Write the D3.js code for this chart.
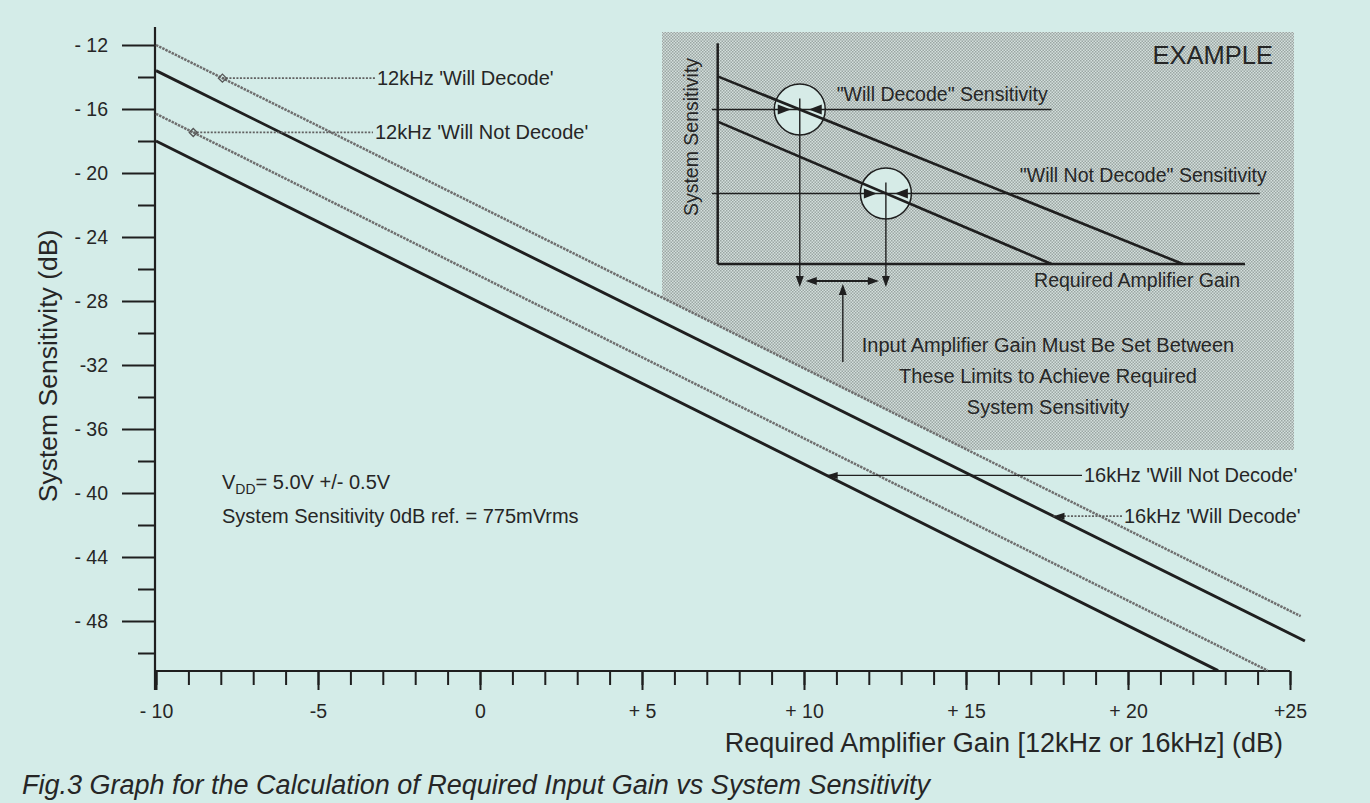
<!DOCTYPE html>
<html>
<head>
<meta charset="utf-8">
<script src="https://cdn.jsdelivr.net/npm/d3@7"></script>
<style>
  body { margin: 0; background: #d4ece8; }
  svg { display: block; font-family: "Liberation Sans", Arial, Helvetica, sans-serif; }
</style>
</head>
<body>
<svg id="chart"></svg>
<script>
// axis ticks
const xTicks = [-10, -5, 0, 5, 10, 15, 20, 25];
const xTickLabels = ['- 10', '-5', '0', '+ 5', '+ 10', '+ 15', '+ 20', '+25'];
const yTicks = [-12, -16, -20, -24, -28, -32, -36, -40, -44, -48];
const yTickLabels = ['- 12', '- 16', '- 20', '- 24', '- 28', '-32', '- 36', '- 40', '- 44', '- 48'];

// the four lines, start and end as [gain dB, sensitivity dB]
const seriesNames = ["12kHz 'Will Decode'", "16kHz 'Will Decode'", "12kHz 'Will Not Decode'", "16kHz 'Will Not Decode'"];
const seriesKind = ['12k', '16k', '12k', '16k'];
const seriesPoints = [
  [[-10, -12.0], [25.33, -47.7]],
  [[-10, -13.6], [25.46, -49.25]],
  [[-10, -16.3], [24.31, -51.1]],
  [[-10, -18.0], [22.78, -51.1]]
];

// labels: which line they point at and at what gain
const labelSeries = [0, 2, 3, 1];
const labelGain = [-7.95, -8.85, 10.7, 17.7];

// EXAMPLE inset, schematic units 0-100
const exSens = [70, 32];                 // "Will Decode", "Will Not Decode" levels
const exLines = [[85, 88.2], [64.5, 63.3]]; // [value at gain 0, gain where it meets axis]

const W = 1370, H = 803;
const ink = '#1f1f1f';
const txt = '#262626';

const svg = d3.select('#chart').attr('width', W).attr('height', H);

const x = d3.scaleLinear().domain([-10, 25]).range([156, 1290]);
const y = d3.scaleLinear().domain([-12, -48]).range([45, 621]);
const axisY = 671, axisTop = 27;

// value of a line at some gain
function lineAt(s, g) {
  const p = seriesPoints[s];
  const t = (g - p[0][0]) / (p[1][0] - p[0][0]);
  return p[0][1] + t * (p[1][1] - p[0][1]);
}
function gainAt(s, v) {
  const p = seriesPoints[s];
  const t = (v - p[0][1]) / (p[1][1] - p[0][1]);
  return p[0][0] + t * (p[1][0] - p[0][0]);
}

// filled triangle with tip at (tx,ty), dir = 'l','r','u','d'
function arrowHead(g, tx, ty, dir, len, half) {
  len = len || 11; half = half || 4;
  let pts;
  if (dir == 'r') pts = [[tx, ty], [tx - len, ty - half], [tx - len, ty + half]];
  if (dir == 'l') pts = [[tx, ty], [tx + len, ty - half], [tx + len, ty + half]];
  if (dir == 'd') pts = [[tx, ty], [tx - half, ty - len], [tx + half, ty - len]];
  if (dir == 'u') pts = [[tx, ty], [tx - half, ty + len], [tx + half, ty + len]];
  g.append('path').attr('d', 'M' + pts.join('L') + 'Z').attr('fill', ink);
}

// ---------- dotted EXAMPLE area (cut by the top line) ----------
const defs = svg.append('defs');
const pat = defs.append('pattern').attr('id', 'dots')
  .attr('width', 3).attr('height', 3).attr('patternUnits', 'userSpaceOnUse');
pat.append('rect').attr('width', 3).attr('height', 3).attr('fill', '#d3dfdc');
pat.append('rect').attr('width', 1.5).attr('height', 1.5).attr('fill', '#9ba6a3');
pat.append('rect').attr('x', 1.5).attr('y', 1.5).attr('width', 1.5).attr('height', 1.5).attr('fill', '#9ba6a3');

const box = {l: 662, t: 32, r: 1294, b: 450};
const cutLeft = y(lineAt(0, x.invert(box.l)));
const cutBottom = x(gainAt(0, y.invert(box.b)));
svg.append('path')
  .attr('d', `M${box.l},${box.t}L${box.r},${box.t}L${box.r},${box.b}L${cutBottom},${box.b}L${box.l},${cutLeft}Z`)
  .attr('fill', 'url(#dots)');

const inset = svg.append('g');
const ix = d3.scaleLinear().domain([0, 100]).range([717.7, 1245]);
const iy = d3.scaleLinear().domain([0, 100]).range([264, 43.3]);

// intersections of sensitivity levels with the two lines
const cross = exSens.map((s, i) => exLines[i][1] * (1 - s / exLines[i][0]));

cross.forEach((c, i) => {
  inset.append('circle')
    .attr('cx', ix(c)).attr('cy', iy(exSens[i])).attr('r', 25.5)
    .attr('fill', '#d6ebe7').attr('stroke', ink).attr('stroke-width', 1.5);
});

// inset axes
inset.append('line').attr('x1', ix(0)).attr('x2', ix(0)).attr('y1', iy(100)).attr('y2', iy(0))
  .attr('stroke', ink).attr('stroke-width', 2.5);
inset.append('line').attr('x1', ix(0)).attr('x2', ix(100)).attr('y1', iy(0)).attr('y2', iy(0))
  .attr('stroke', ink).attr('stroke-width', 2.5);

exLines.forEach(l => {
  inset.append('line').attr('x1', ix(0)).attr('y1', iy(l[0])).attr('x2', ix(l[1])).attr('y2', iy(0))
    .attr('stroke', ink).attr('stroke-width', 2.6);
});

const levelEnd = [63.3, 102.8];
exSens.forEach((s, i) => {
  inset.append('line').attr('x1', ix(-1.1)).attr('x2', ix(levelEnd[i])).attr('y1', iy(s)).attr('y2', iy(s))
    .attr('stroke', ink).attr('stroke-width', 1.5);
});

const dropTip = iy(0) + 23;
cross.forEach((c, i) => {
  const cx = ix(c), cy = iy(exSens[i]);
  arrowHead(inset, cx - 9, cy, 'r', 13, 5);
  arrowHead(inset, cx + 9, cy, 'l', 13, 5);
  inset.append('line').attr('x1', cx).attr('x2', cx).attr('y1', cy - 11).attr('y2', dropTip - 6)
    .attr('stroke', ink).attr('stroke-width', 1.4);
  arrowHead(inset, cx, dropTip, 'd', 11, 4);
});

// range arrow between the drops and pointer up to it
const ax1 = ix(cross[0]) + 6, ax2 = ix(cross[1]) - 7, ay = dropTip - 6;
inset.append('line').attr('x1', ax1 + 8).attr('x2', ax2 - 8).attr('y1', ay).attr('y2', ay)
  .attr('stroke', ink).attr('stroke-width', 2);
arrowHead(inset, ax1, ay, 'l', 11, 4);
arrowHead(inset, ax2, ay, 'r', 11, 4);
const mid = (ix(cross[0]) + ix(cross[1])) / 2;
inset.append('line').attr('x1', mid).attr('x2', mid).attr('y1', ay + 12).attr('y2', 362)
  .attr('stroke', ink).attr('stroke-width', 1.4);
arrowHead(inset, mid, ay + 3, 'u', 11, 4);

// inset texts
inset.append('text').attr('transform', 'translate(698,137) rotate(-90)')
  .attr('text-anchor', 'middle').attr('font-size', 19.5).attr('fill', txt).text('System Sensitivity');
inset.append('text').attr('x', 836.7).attr('y', 101).attr('font-size', 19.5).attr('fill', txt)
  .text('"Will Decode" Sensitivity');
inset.append('text').attr('x', 1266.7).attr('y', 182).attr('text-anchor', 'end').attr('font-size', 19.5).attr('fill', txt)
  .text('"Will Not Decode" Sensitivity');
inset.append('text').attr('x', 1240).attr('y', 287).attr('text-anchor', 'end').attr('font-size', 19.5).attr('fill', txt)
  .text('Required Amplifier Gain');
inset.append('text').attr('x', 1273).attr('y', 64).attr('text-anchor', 'end').attr('font-size', 25.5).attr('fill', txt)
  .text('EXAMPLE');
const noteLines = ['Input Amplifier Gain Must Be Set Between', 'These Limits to Achieve Required', 'System Sensitivity'];
noteLines.forEach((t, i) => {
  inset.append('text').attr('x', 1048).attr('y', 352 + i * 31).attr('text-anchor', 'middle')
    .attr('font-size', 20).attr('fill', txt).text(t);
});

// ---------- axes ----------
const xMinor = svg.append('g').attr('transform', `translate(0,${axisY})`)
  .call(d3.axisBottom(x).tickValues(d3.range(-10, 26, 1)).tickSize(14).tickFormat(''));
const xMajor = svg.append('g').attr('transform', `translate(0,${axisY})`)
  .call(d3.axisBottom(x).tickValues(xTicks).tickSize(19).tickPadding(14)
    .tickFormat((d, i) => xTickLabels[i]));
const yMinor = svg.append('g').attr('transform', 'translate(155,0)')
  .call(d3.axisLeft(y).tickValues(d3.range(-14, -51, -4)).tickSize(17).tickFormat(''));
const yMajor = svg.append('g').attr('transform', 'translate(155,0)')
  .call(d3.axisLeft(y).tickValues(yTicks).tickSize(33).tickPadding(14)
    .tickFormat((d, i) => yTickLabels[i]));

[xMinor, xMajor, yMinor, yMajor].forEach(g => {
  g.select('.domain').remove();
  g.selectAll('line').attr('stroke', ink).attr('stroke-width', 2);
  g.selectAll('text').attr('font-size', 19.5).attr('fill', txt)
    .attr('font-family', '"Liberation Sans", Arial, sans-serif');
});

svg.append('line').attr('x1', 155).attr('x2', 155).attr('y1', axisTop).attr('y2', axisY + 19)
  .attr('stroke', ink).attr('stroke-width', 2.2);
svg.append('line').attr('x1', 155).attr('x2', x(25)).attr('y1', axisY).attr('y2', axisY)
  .attr('stroke', ink).attr('stroke-width', 2.2);

svg.append('text').attr('transform', 'translate(57,366) rotate(-90)')
  .attr('text-anchor', 'middle').attr('font-size', 26.5).attr('fill', txt)
  .text('System Sensitivity (dB)');
svg.append('text').attr('x', 1283).attr('y', 752).attr('text-anchor', 'end')
  .attr('font-size', 27).attr('fill', txt)
  .text('Required Amplifier Gain [12kHz or 16kHz] (dB)');

// ---------- lines ----------
const line = d3.line().x(d => x(d[0])).y(d => y(d[1]));
svg.append('g').selectAll('path')
  .data(seriesPoints)
  .enter()
  .append('path')
  .attr('d', line)
  .attr('fill', 'none')
  .attr('stroke', (d, i) => seriesKind[i] == '12k' ? '#6e6e6e' : ink)
  .attr('stroke-width', (d, i) => seriesKind[i] == '12k' ? 2.5 : 2.9)
  .attr('stroke-dasharray', (d, i) => seriesKind[i] == '12k' ? '2.5 1' : null);

// ---------- line labels ----------
const leaderEnd = [375, 373, 1082, 1122];
labelSeries.forEach((s, i) => {
  const px = x(labelGain[i]);
  const py = y(lineAt(s, labelGain[i]));
  const ex = leaderEnd[i];
  const dotted = i != 2;
  svg.append('line').attr('x1', px).attr('x2', ex).attr('y1', py).attr('y2', py)
    .attr('stroke', dotted ? '#606060' : ink)
    .attr('stroke-width', dotted ? 1.7 : 1.3)
    .attr('stroke-dasharray', dotted ? '2 1.5' : null);
  if (seriesKind[s] == '12k') {
    svg.append('path')
      .attr('d', `M${px - 4},${py}L${px},${py - 4}L${px + 4},${py}L${px},${py + 4}Z`)
      .attr('fill', 'none').attr('stroke', '#555').attr('stroke-width', 1.3);
  } else {
    arrowHead(svg, px, py, 'l', 11, 3.5);
  }
  svg.append('text').attr('x', ex + 2).attr('y', py + 7)
    .attr('font-size', 20).attr('fill', txt).text(seriesNames[s]);
});

// ---------- notes ----------
const vdd = svg.append('text').attr('x', 222).attr('y', 489).attr('font-size', 20).attr('fill', txt);
vdd.append('tspan').text('V');
vdd.append('tspan').attr('font-size', 14).attr('dy', 5).text('DD');
vdd.append('tspan').attr('dy', -5).text('= 5.0V +/- 0.5V');
svg.append('text').attr('x', 222).attr('y', 523).attr('font-size', 20).attr('fill', txt)
  .text('System Sensitivity 0dB ref. = 775mVrms');

svg.append('text').attr('x', 22).attr('y', 794).attr('font-size', 27)
  .attr('font-style', 'italic').attr('fill', txt)
  .text('Fig.3 Graph for the Calculation of Required Input Gain vs System Sensitivity');
</script>
</body>
</html>
